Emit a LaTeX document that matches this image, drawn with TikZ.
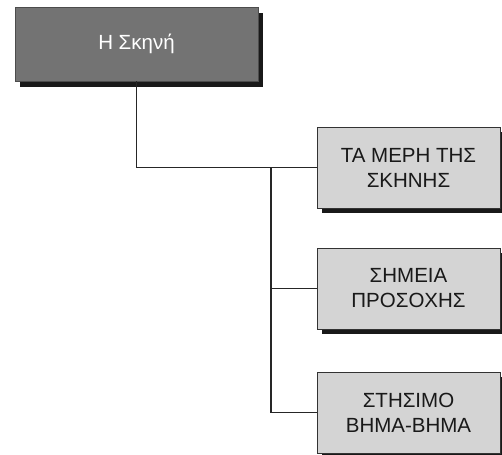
\documentclass[tikz,border=0pt]{standalone}
\usepackage{fontspec}
\setmainfont{Liberation Sans}
\usepackage{tikz}
\usetikzlibrary{positioning,shadows}
\tikzset{
  link/.style={line width=1.2pt, draw=black!85},
  rootbox/.style={draw=black!70, line width=0.6pt, fill=black!55, text=white, minimum width=243pt, minimum height=74pt, align=center, general shadow={fill=black!90, shadow xshift=5pt, shadow yshift=-6pt}},
  topicbox/.style={draw=black!80, line width=0.8pt, fill=black!17, text=black!90, minimum width=183pt, minimum height=81pt, align=center, general shadow={fill=black!90, shadow xshift=5pt, shadow yshift=-5pt}}
}

\begin{document}
\begin{tikzpicture}[x=1pt, y=-1pt, every node/.style={font=\fontsize{20.5}{25}\selectfont}]
  \useasboundingbox (0,0) rectangle (502,454);
  \node[rootbox] (scene) at (136.5,44) {Η Σκηνή};
  \node[topicbox] (parts) at (408.5,167.5) {ΤΑ ΜΕΡΗ ΤΗΣ\\ΣΚΗΝΗΣ};
  \node[topicbox] (points) at (408.5,288.5) {ΣΗΜΕΙΑ\\ΠΡΟΣΟΧΗΣ};
  \node[topicbox] (staging) at (408.5,412.5) {ΣΤΗΣΙΜΟ\\ΒΗΜΑ-ΒΗΜΑ};
  \coordinate (bus) at (271,168);
  \draw[link] (scene.south) |- (parts.west);
  \draw[link] (bus) |- (points.west);
  \draw[link] (bus) |- (staging.west);
\end{tikzpicture}
\end{document}
